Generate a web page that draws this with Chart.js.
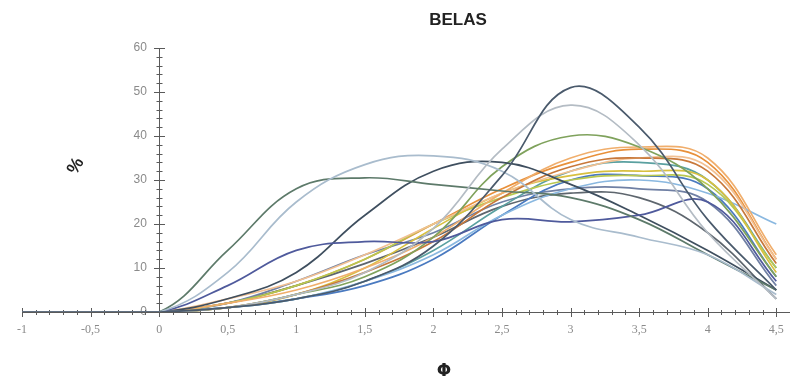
<!DOCTYPE html>
<html>
<head>
<meta charset="utf-8">
<script src="https://cdn.jsdelivr.net/npm/chart.js@4/dist/chart.umd.min.js"></script>
<style>
  html, body { margin: 0; padding: 0; background: #ffffff; }
  #wrap { width: 798px; height: 383px; position: relative; }
</style>
</head>
<body>
<div id="wrap"><canvas id="c" width="798" height="383"></canvas></div>
<script>
// Grain-size classes (phi) at which each sample's percentage was measured
const phi = [-1, -0.5, 0, 0.5, 1, 1.5, 2, 2.5, 3, 3.5, 4, 4.5];

// Percent retained per phi class, one array per sample
const s01 = [0, 0, 0, 1, 3, 7, 15, 31, 51, 42, 21, 5];
const s02 = [0, 0, 0, 1, 4, 9, 19, 37, 47, 38, 18, 3];
const s03 = [0, 0, 0, 9, 25, 33.5, 35.5, 32, 21, 17, 13, 4];
const s04 = [0, 0, 0, 14, 28, 30.5, 29, 27.5, 26, 21, 13, 5];
const s05 = [0, 0, 0, 6, 14, 16, 16, 21, 20.5, 22, 25, 7];
const s06 = [0, 0, 0, 3, 9, 22, 32, 34, 29, 22, 14, 5];
const s07 = [0, 0, 0, 1, 4, 8, 17, 33, 40, 37.5, 28, 8];
const s08 = [0, 0, 0, 2, 6, 12, 20, 28, 34, 37, 34, 12];
const s09 = [0, 0, 0, 2, 5, 10, 17, 27, 35, 37.5, 35, 13];
const s10 = [0, 0, 0, 1, 4, 9, 16, 26, 33, 35, 32, 11];
const s11 = [0, 0, 0, 3, 7, 13, 20, 27, 32, 35, 33, 12];
const s12 = [0, 0, 0, 1, 4, 10, 19, 27, 31, 32, 30, 9];
const s13 = [0, 0, 0, 2, 6, 12, 20, 26, 30, 31, 29, 10];
const s14 = [0, 0, 0, 1, 3, 7, 13, 22, 28, 30, 27, 20];
const s15 = [0, 0, 0, 1, 3, 6, 12, 22, 30, 31, 28, 8];
const s16 = [0, 0, 0, 1, 3, 7, 14, 24, 32, 34, 30, 10];
const s17 = [0, 0, 0, 2, 7, 13, 18, 25, 28, 28, 25, 6];
const s18 = [0, 0, 0, 2, 6, 11, 17, 24, 27, 26, 18, 3];

const samples = [s01, s02, s03, s04, s05, s06, s07, s08, s09, s10, s11, s12, s13, s14, s15, s16, s17, s18];
const lineColors = [
  '#4a5a6c', '#b4bcc4', '#a9bccd', '#5d7a6a', '#4f5a9c', '#3f4f5f',
  '#7fa25c', '#e8903a', '#f0ae6c', '#c8783a', '#f2c092', '#d8c040',
  '#b8c850', '#8ab8e0', '#4a7ac0', '#5aa0a0', '#7080a4', '#5e666e'
];

// Axis tick values
const yTickValues = [0, 10, 20, 30, 40, 50, 60];
const xTickValues = [-1, -0.5, 0, 0.5, 1, 1.5, 2, 2.5, 3, 3.5, 4, 4.5];

const datasets = samples.map((vals, i) => ({
  label: 'Amostra ' + (i + 1),
  data: phi.map((p, k) => ({ x: p, y: vals[k] })),
  borderColor: lineColors[i],
  borderWidth: 1.7,
  pointRadius: 0,
  tension: 0.4,
  fill: false
}));
// the orange sample sits on top, so it draws last
datasets.push(datasets.splice(7, 1)[0]);

// Axis lines with crossing major/minor tick marks, plus titles
const axesAndTitles = {
  id: 'axesAndTitles',
  beforeDatasetsDraw(chart) {
    const ctx = chart.ctx;
    const xs = chart.scales.x, ys = chart.scales.y;
    const y0 = Math.round(ys.getPixelForValue(0));
    const x0 = Math.round(xs.getPixelForValue(0));
    ctx.save();
    ctx.strokeStyle = '#5a5a5a';
    ctx.lineWidth = 1;
    // horizontal axis
    ctx.beginPath();
    ctx.moveTo(xs.getPixelForValue(-1), y0 + 0.5);
    ctx.lineTo(xs.right, y0 + 0.5);
    ctx.stroke();
    for (let i = 0; i <= 55; i++) {
      const v = -1 + i * 0.1;
      const px = Math.round(xs.getPixelForValue(v)) + 0.5;
      const h = i % 5 === 0 ? 4 : 2;
      ctx.beginPath();
      ctx.moveTo(px, y0 - h);
      ctx.lineTo(px, y0 + h + 1);
      ctx.stroke();
    }
    // vertical axis at phi = 0
    ctx.beginPath();
    ctx.moveTo(x0 + 0.5, ys.getPixelForValue(60));
    ctx.lineTo(x0 + 0.5, y0 + 1);
    ctx.stroke();
    for (let v = 0; v <= 60; v += 2) {
      const py = Math.round(ys.getPixelForValue(v)) + 0.5;
      const w = v % 10 === 0 ? 5 : 2.5;
      ctx.beginPath();
      ctx.moveTo(x0 - w, py);
      ctx.lineTo(x0 + w + 1, py);
      ctx.stroke();
    }
    ctx.restore();
  },
  afterDraw(chart) {
    const ctx = chart.ctx;
    ctx.save();
    ctx.fillStyle = '#222222';
    ctx.textAlign = 'center';
    ctx.textBaseline = 'middle';
    ctx.font = 'bold 17px "Liberation Sans", Arial, sans-serif';
    ctx.fillText('BELAS', 458, 20);
    ctx.font = 'bold 17px "DejaVu Sans", sans-serif';
    ctx.fillText('Φ', 444, 372);
    ctx.translate(76, 166);
    ctx.rotate(-Math.PI / 3);
    ctx.font = 'bold 18px "Liberation Sans", Arial, sans-serif';
    ctx.fillText('%', 0, 0);
    ctx.restore();
  }
};

new Chart(document.getElementById('c'), {
  type: 'line',
  data: { datasets },
  plugins: [axesAndTitles],
  options: {
    responsive: false,
    animation: false,
    layout: { padding: { left: 22, right: 8, top: 48, bottom: 71 } },
    plugins: { legend: { display: false }, title: { display: false }, tooltip: { enabled: false } },
    scales: {
      x: {
        type: 'linear',
        min: -1,
        max: 4.6,
        position: { y: 0 },
        grid: { display: false, drawTicks: false },
        border: { display: false },
        afterBuildTicks(scale) { scale.ticks = xTickValues.map(v => ({ value: v })); },
        ticks: {
          autoSkip: false,
          maxRotation: 0,
          padding: 11,
          color: '#8a8a8a',
          font: { family: '"Liberation Serif", serif', size: 12 },
          callback: (v) => String(v).replace('.', ',')
        }
      },
      y: {
        type: 'linear',
        min: 0,
        max: 60,
        // labels sit a little left of the phi = 0 axis line
        position: { x: -0.09 },
        grid: { display: false, drawTicks: false },
        border: { display: false },
        afterBuildTicks(scale) { scale.ticks = yTickValues.map(v => ({ value: v })); },
        ticks: {
          padding: 0,
          color: '#8a8a8a',
          font: { family: '"Liberation Sans", Arial, sans-serif', size: 12 }
        }
      }
    }
  }
});
</script>
</body>
</html>
